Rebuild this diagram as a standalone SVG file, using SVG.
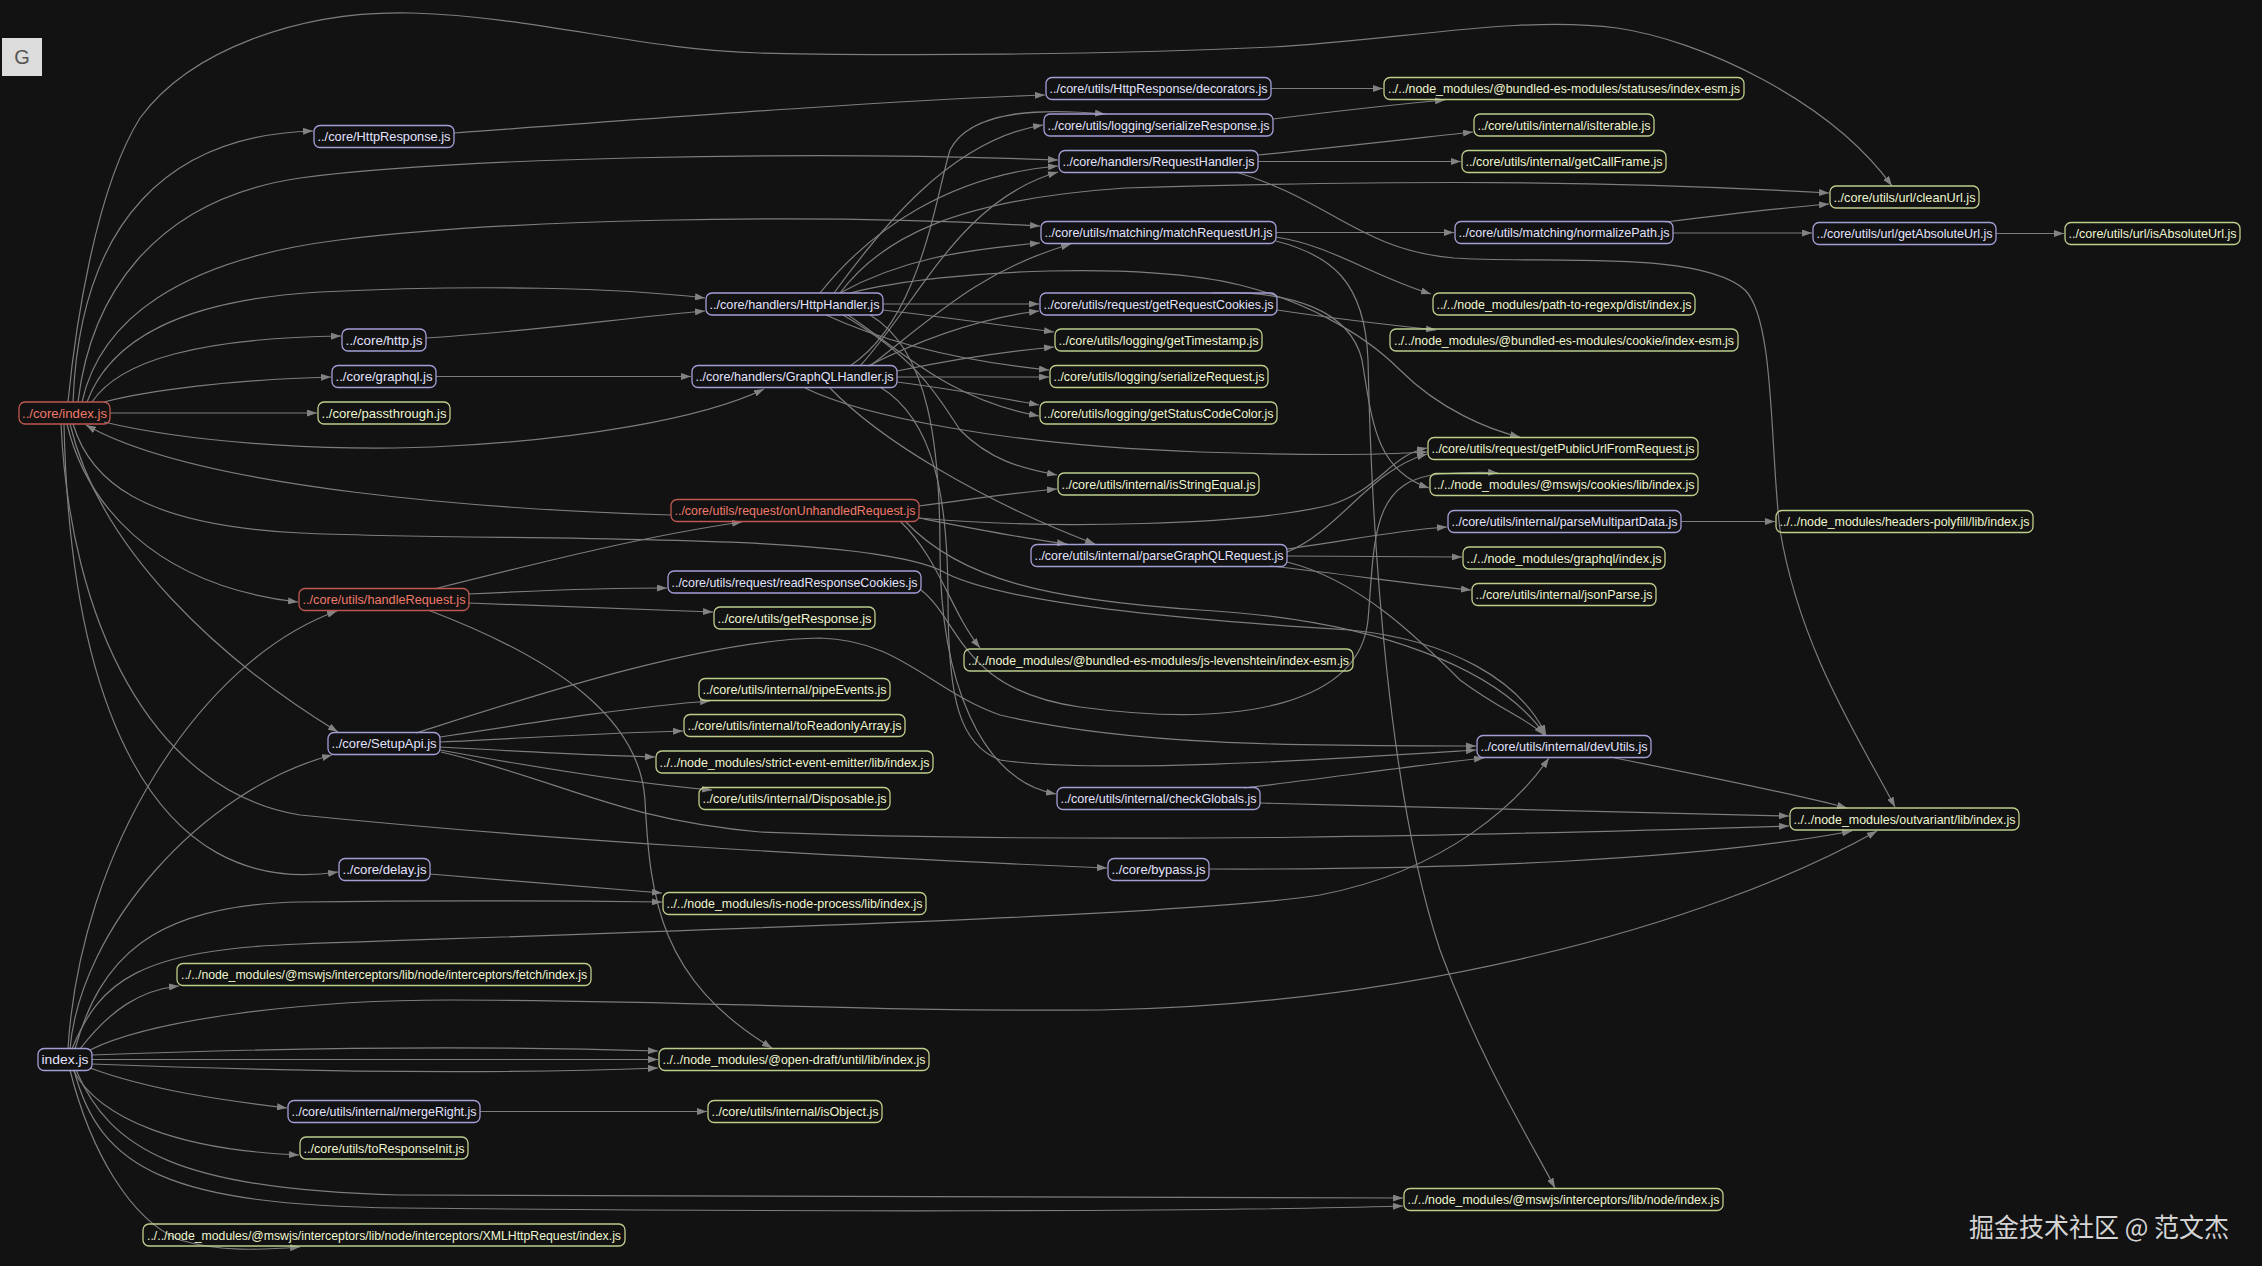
<svg xmlns="http://www.w3.org/2000/svg" width="2262" height="1274" viewBox="0 0 2262 1274">
<defs>
<marker id="arr" viewBox="0 0 10 7" refX="10" refY="3.5" markerWidth="10" markerHeight="7" markerUnits="userSpaceOnUse" orient="auto"><path d="M0,0 L10,3.5 L0,7 z" fill="#828282"/></marker>
<style>
.bg{fill:#121212}
#edges path{fill:none;stroke:#7d7d7d;stroke-width:1.2;marker-end:url(#arr)}
.node rect{fill:#121212;fill-opacity:0;stroke-width:1.3}
.node text{font-family:"Liberation Sans",Arial,sans-serif;font-size:13px;text-anchor:middle}
.red rect{stroke:#bd5850}.red text{fill:#f07a6a}
.pur rect{stroke:#a29fd6}.pur text{fill:#e2e2ff}
.grn rect{stroke:#bccd8c}.grn text{fill:#eef6cf}
</style>
</defs>
<rect class="bg" x="0" y="0" width="2262" height="1274"/>
<rect x="0" y="1266" width="2262" height="8" fill="#ffffff"/>
<g id="title"><rect x="2" y="38" width="40" height="38" fill="#dcdcdc"/><text x="22" y="64" font-family="Liberation Sans,Arial,sans-serif" font-size="20" fill="#555" text-anchor="middle">G</text></g>
<g id="edges">
<path d="M68,402 C75,330 95,190 140,118 C190,50 300,10 412,13 C540,17 640,50 760,53 C900,56 1100,55 1272,47 C1400,40 1520,15 1617,28 C1700,40 1830,100 1892,186"/>
<path d="M73,402 C80,220 170,135 313,131"/>
<path d="M78,402 C90,300 150,200 300,178 C450,158 800,150 1058,160"/>
<path d="M82,402 C100,320 180,260 339,240 C500,220 800,212 1040,226"/>
<path d="M87,402 C110,340 180,300 320,292 C480,284 620,288 705,298"/>
<path d="M92,402 C120,360 200,338 341,336"/>
<path d="M104,402 C150,390 230,380 331,377"/>
<path d="M110,413 L317,413"/>
<path d="M104,422 C200,445 350,452 450,446 C570,440 700,420 764,389"/>
<path d="M671,515 C500,510 200,490 86,425"/>
<path d="M73,424 C90,480 140,525 300,533 C500,542 850,530 940,570 C990,600 1150,618 1350,630 C1450,640 1520,680 1546,735"/>
<path d="M67,424 C85,500 150,585 298,602"/>
<path d="M70,424 C100,550 220,660 338,732"/>
<path d="M61,424 C70,620 150,790 300,815 C550,840 800,855 1107,868"/>
<path d="M64,424 C70,700 150,900 338,872"/>
<path d="M426,338 C550,330 620,318 705,311"/>
<path d="M436,376.5 L691,376.5"/>
<path d="M454,133 C700,115 900,100 1045,95"/>
<path d="M1271,88.5 L1383,88.5"/>
<path d="M1273,119 C1330,112 1400,104 1445,100"/>
<path d="M1258,155 C1330,148 1400,140 1473,132"/>
<path d="M1258,161.5 L1461,161.5"/>
<path d="M1236,172 C1330,200 1360,250 1454,258 C1550,264 1700,250 1745,290 C1775,320 1770,450 1780,530 C1800,650 1860,740 1895,807"/>
<path d="M840,293 C880,240 950,200 1125,188 C1400,180 1600,180 1829,193"/>
<path d="M1665,222 C1720,215 1780,208 1829,204"/>
<path d="M1276,232.5 L1454,232.5"/>
<path d="M1673,233 L1812,233"/>
<path d="M1996,233.5 L2064,233.5"/>
<path d="M1276,237 C1330,245 1370,275 1431,294"/>
<path d="M1276,241 C1330,255 1365,280 1368,360 C1372,550 1390,800 1440,950 C1480,1060 1530,1140 1555,1188"/>
<path d="M1277,310 C1330,318 1390,325 1436,330"/>
<path d="M1212,293 C1290,290 1350,310 1362,360 C1372,420 1375,470 1429,488"/>
<path d="M883,304 L1039,304"/>
<path d="M868,366 C920,340 980,318 1039,311"/>
<path d="M883,310 C950,318 1000,325 1054,332"/>
<path d="M897,371 C950,360 1000,352 1054,347"/>
<path d="M826,315 C880,340 950,360 1049,370"/>
<path d="M897,377 L1049,377"/>
<path d="M848,315 C900,350 950,400 1039,416"/>
<path d="M897,382 C960,390 1000,398 1039,405"/>
<path d="M843,315 C920,360 940,400 960,430 C990,460 1020,468 1057,475"/>
<path d="M919,506 C980,498 1020,492 1057,489"/>
<path d="M834,293 C880,230 950,140 1043,125"/>
<path d="M850,366 C920,320 935,200 950,150 C970,110 1040,108 1105,114"/>
<path d="M820,293 C870,230 950,175 1058,166"/>
<path d="M860,366 C920,300 960,200 1058,172"/>
<path d="M840,293 C900,260 960,250 1040,243"/>
<path d="M870,366 C930,320 980,270 1071,244"/>
<path d="M850,293 C950,268 1150,262 1240,285 C1300,300 1360,330 1400,370 C1440,410 1490,430 1520,437"/>
<path d="M805,388 C860,415 1000,445 1200,452 C1320,456 1380,455 1427,452"/>
<path d="M919,518 C1050,530 1250,525 1330,505 C1380,490 1390,455 1427,448"/>
<path d="M1287,552 C1340,530 1370,470 1427,454"/>
<path d="M1287,549 C1350,540 1400,530 1447,527"/>
<path d="M1287,556 L1462,557"/>
<path d="M1270,566 C1350,575 1420,585 1471,590"/>
<path d="M1287,562 C1360,580 1420,640 1460,680 C1500,710 1530,720 1544,735"/>
<path d="M1681,521.5 L1775,521.5"/>
<path d="M919,518 C980,530 1020,538 1067,544"/>
<path d="M830,388 C880,440 980,500 1095,544"/>
<path d="M921,590 C960,620 960,690 1080,707 C1250,730 1360,700 1368,620 C1375,540 1370,480 1440,474 C1470,472 1485,472 1498,473"/>
<path d="M434,589 C550,560 650,535 742,522"/>
<path d="M468,594 C550,590 600,588 667,588"/>
<path d="M468,603 C560,606 640,609 713,612"/>
<path d="M428,610 C560,660 640,720 645,800 C650,900 660,980 772,1048"/>
<path d="M440,737 C550,720 640,706 710,701"/>
<path d="M440,742 C530,738 600,733 683,731"/>
<path d="M440,747 C530,752 600,756 655,757"/>
<path d="M440,750 C550,770 650,785 712,790"/>
<path d="M416,733 C520,700 700,640 820,638 C900,640 930,690 1000,715 C1150,750 1350,745 1476,746"/>
<path d="M441,752 C560,780 620,820 760,832 C1100,845 1500,835 1789,826"/>
<path d="M1244,788 C1350,775 1420,765 1484,758"/>
<path d="M1260,803 C1450,808 1650,812 1789,816"/>
<path d="M1610,757 C1700,775 1800,795 1847,808"/>
<path d="M1209,869 C1450,870 1700,860 1852,831"/>
<path d="M430,874 C530,882 600,888 662,893"/>
<path d="M75,1049 C100,960 150,905 300,902 C450,900 580,901 662,902"/>
<path d="M72,1049 C100,980 140,950 300,944 C700,930 1200,915 1320,895 C1450,870 1520,800 1549,758"/>
<path d="M90,1050 C150,1020 300,1000 450,1000 C700,1000 850,1012 1100,1010 C1400,1005 1700,930 1877,831"/>
<path d="M80,1049 C110,1010 140,990 179,986"/>
<path d="M92,1055 C300,1047 500,1046 658,1051"/>
<path d="M92,1059.5 L658,1059.5"/>
<path d="M92,1064 C300,1072 500,1074 658,1068"/>
<path d="M90,1068 C150,1090 220,1100 287,1108"/>
<path d="M480,1111.5 L707,1111.5"/>
<path d="M73,1070 C100,1120 180,1150 299,1155"/>
<path d="M76,1070 C110,1150 180,1190 400,1195 C800,1198 1200,1198 1403,1198"/>
<path d="M74,1070 C100,1170 170,1205 400,1208 C800,1212 1200,1212 1403,1206"/>
<path d="M70,1070 C90,1150 130,1220 180,1240 C220,1252 260,1250 300,1247"/>
<path d="M70,1049 C80,930 200,790 332,755"/>
<path d="M68,1049 C80,850 200,660 337,611"/>
<path d="M880,387 C935,420 948,500 948,600 C948,700 960,745 1000,760 C1100,775 1350,758 1476,750"/>
<path d="M870,315 C930,350 940,450 940,550 C940,680 980,780 1056,794"/>
<path d="M900,521 C940,560 950,610 980,648"/>
<path d="M905,521 C960,580 1050,600 1200,610 C1380,620 1500,670 1545,735"/>
</g>
<g id="nodes">
<g id="n-core-index" class="node red"><rect x="19" y="402" width="91" height="22" rx="6"/><text x="64.5" y="417.5" textLength="85" lengthAdjust="spacingAndGlyphs">../core/index.js</text></g>
<g id="n-httpresponse" class="node pur"><rect x="314" y="125.5" width="140" height="22" rx="6"/><text x="384" y="141" textLength="133" lengthAdjust="spacingAndGlyphs">../core/HttpResponse.js</text></g>
<g id="n-http" class="node pur"><rect x="342" y="329" width="84" height="22" rx="6"/><text x="384" y="344.5" textLength="77" lengthAdjust="spacingAndGlyphs">../core/http.js</text></g>
<g id="n-graphql" class="node pur"><rect x="332" y="365.5" width="104" height="22" rx="6"/><text x="384" y="381" textLength="97" lengthAdjust="spacingAndGlyphs">../core/graphql.js</text></g>
<g id="n-passthrough" class="node grn"><rect x="318" y="402" width="132" height="22" rx="6"/><text x="384" y="417.5" textLength="125" lengthAdjust="spacingAndGlyphs">../core/passthrough.js</text></g>
<g id="n-handlerequest" class="node red"><rect x="299" y="588.5" width="170" height="22" rx="6"/><text x="384" y="604" textLength="163" lengthAdjust="spacingAndGlyphs">../core/utils/handleRequest.js</text></g>
<g id="n-setupapi" class="node pur"><rect x="328" y="732.5" width="112" height="22" rx="6"/><text x="384" y="748" textLength="105" lengthAdjust="spacingAndGlyphs">../core/SetupApi.js</text></g>
<g id="n-delay" class="node pur"><rect x="339" y="858.5" width="91" height="22" rx="6"/><text x="384.5" y="874" textLength="84" lengthAdjust="spacingAndGlyphs">../core/delay.js</text></g>
<g id="n-fetch" class="node grn"><rect x="177" y="963.5" width="414" height="22" rx="6"/><text x="384" y="979" textLength="406" lengthAdjust="spacingAndGlyphs">../../node_modules/@mswjs/interceptors/lib/node/interceptors/fetch/index.js</text></g>
<g id="n-mergeright" class="node pur"><rect x="288" y="1100.5" width="192" height="22" rx="6"/><text x="384" y="1116" textLength="185" lengthAdjust="spacingAndGlyphs">../core/utils/internal/mergeRight.js</text></g>
<g id="n-toresponseinit" class="node grn"><rect x="300" y="1137" width="168" height="22" rx="6"/><text x="384" y="1152.5" textLength="161" lengthAdjust="spacingAndGlyphs">../core/utils/toResponseInit.js</text></g>
<g id="n-xhr" class="node grn"><rect x="143" y="1224" width="482" height="22" rx="6"/><text x="384" y="1239.5" textLength="474" lengthAdjust="spacingAndGlyphs">../../node_modules/@mswjs/interceptors/lib/node/interceptors/XMLHttpRequest/index.js</text></g>
<g id="n-index" class="node pur"><rect x="38" y="1048.5" width="54" height="22" rx="6"/><text x="65" y="1064" textLength="47" lengthAdjust="spacingAndGlyphs">index.js</text></g>
<g id="n-httphandler" class="node pur"><rect x="706" y="293" width="177" height="22" rx="6"/><text x="794.5" y="308.5" textLength="170" lengthAdjust="spacingAndGlyphs">../core/handlers/HttpHandler.js</text></g>
<g id="n-graphqlhandler" class="node pur"><rect x="692" y="365.5" width="205" height="22" rx="6"/><text x="794.5" y="381" textLength="198" lengthAdjust="spacingAndGlyphs">../core/handlers/GraphQLHandler.js</text></g>
<g id="n-onunhandled" class="node red"><rect x="671" y="499.5" width="248" height="22" rx="6"/><text x="795" y="515" textLength="241" lengthAdjust="spacingAndGlyphs">../core/utils/request/onUnhandledRequest.js</text></g>
<g id="n-readresponsecookies" class="node pur"><rect x="668" y="571" width="253" height="22" rx="6"/><text x="794.5" y="586.5" textLength="246" lengthAdjust="spacingAndGlyphs">../core/utils/request/readResponseCookies.js</text></g>
<g id="n-getresponse" class="node grn"><rect x="714" y="607" width="161" height="22" rx="6"/><text x="794.5" y="622.5" textLength="154" lengthAdjust="spacingAndGlyphs">../core/utils/getResponse.js</text></g>
<g id="n-pipeevents" class="node grn"><rect x="699" y="678.5" width="191" height="22" rx="6"/><text x="794.5" y="694" textLength="184" lengthAdjust="spacingAndGlyphs">../core/utils/internal/pipeEvents.js</text></g>
<g id="n-toreadonlyarray" class="node grn"><rect x="684" y="714.5" width="221" height="22" rx="6"/><text x="794.5" y="730" textLength="214" lengthAdjust="spacingAndGlyphs">../core/utils/internal/toReadonlyArray.js</text></g>
<g id="n-strictevent" class="node grn"><rect x="656" y="751" width="277" height="22" rx="6"/><text x="794.5" y="766.5" textLength="270" lengthAdjust="spacingAndGlyphs">../../node_modules/strict-event-emitter/lib/index.js</text></g>
<g id="n-disposable" class="node grn"><rect x="699" y="787.5" width="191" height="22" rx="6"/><text x="794.5" y="803" textLength="184" lengthAdjust="spacingAndGlyphs">../core/utils/internal/Disposable.js</text></g>
<g id="n-isnodeprocess" class="node grn"><rect x="663" y="892.5" width="263" height="22" rx="6"/><text x="794.5" y="908" textLength="256" lengthAdjust="spacingAndGlyphs">../../node_modules/is-node-process/lib/index.js</text></g>
<g id="n-until" class="node grn"><rect x="659" y="1048.5" width="270" height="22" rx="6"/><text x="794" y="1064" textLength="263" lengthAdjust="spacingAndGlyphs">../../node_modules/@open-draft/until/lib/index.js</text></g>
<g id="n-isobject" class="node grn"><rect x="708" y="1100.5" width="174" height="22" rx="6"/><text x="795" y="1116" textLength="167" lengthAdjust="spacingAndGlyphs">../core/utils/internal/isObject.js</text></g>
<g id="n-decorators" class="node pur"><rect x="1046" y="77.5" width="225" height="22" rx="6"/><text x="1158.5" y="93" textLength="218" lengthAdjust="spacingAndGlyphs">../core/utils/HttpResponse/decorators.js</text></g>
<g id="n-serializeresponse" class="node pur"><rect x="1044" y="114" width="229" height="22" rx="6"/><text x="1158.5" y="129.5" textLength="222" lengthAdjust="spacingAndGlyphs">../core/utils/logging/serializeResponse.js</text></g>
<g id="n-requesthandler" class="node pur"><rect x="1059" y="150.5" width="199" height="22" rx="6"/><text x="1158.5" y="166" textLength="192" lengthAdjust="spacingAndGlyphs">../core/handlers/RequestHandler.js</text></g>
<g id="n-matchrequesturl" class="node pur"><rect x="1041" y="221.5" width="235" height="22" rx="6"/><text x="1158.5" y="237" textLength="228" lengthAdjust="spacingAndGlyphs">../core/utils/matching/matchRequestUrl.js</text></g>
<g id="n-getrequestcookies" class="node pur"><rect x="1040" y="293" width="237" height="22" rx="6"/><text x="1158.5" y="308.5" textLength="230" lengthAdjust="spacingAndGlyphs">../core/utils/request/getRequestCookies.js</text></g>
<g id="n-gettimestamp" class="node grn"><rect x="1055" y="329" width="207" height="22" rx="6"/><text x="1158.5" y="344.5" textLength="200" lengthAdjust="spacingAndGlyphs">../core/utils/logging/getTimestamp.js</text></g>
<g id="n-serializerequest" class="node grn"><rect x="1050" y="365.5" width="218" height="22" rx="6"/><text x="1159" y="381" textLength="211" lengthAdjust="spacingAndGlyphs">../core/utils/logging/serializeRequest.js</text></g>
<g id="n-getstatuscodecolor" class="node grn"><rect x="1040" y="402" width="237" height="22" rx="6"/><text x="1158.5" y="417.5" textLength="230" lengthAdjust="spacingAndGlyphs">../core/utils/logging/getStatusCodeColor.js</text></g>
<g id="n-isstringequal" class="node grn"><rect x="1058" y="473" width="201" height="22" rx="6"/><text x="1158.5" y="488.5" textLength="194" lengthAdjust="spacingAndGlyphs">../core/utils/internal/isStringEqual.js</text></g>
<g id="n-parsegraphqlrequest" class="node pur"><rect x="1031" y="544.5" width="256" height="22" rx="6"/><text x="1159" y="560" textLength="249" lengthAdjust="spacingAndGlyphs">../core/utils/internal/parseGraphQLRequest.js</text></g>
<g id="n-levenshtein" class="node grn"><rect x="964" y="649" width="389" height="22" rx="6"/><text x="1158.5" y="664.5" textLength="381" lengthAdjust="spacingAndGlyphs">../../node_modules/@bundled-es-modules/js-levenshtein/index-esm.js</text></g>
<g id="n-checkglobals" class="node pur"><rect x="1057" y="787.5" width="203" height="22" rx="6"/><text x="1158.5" y="803" textLength="196" lengthAdjust="spacingAndGlyphs">../core/utils/internal/checkGlobals.js</text></g>
<g id="n-bypass" class="node pur"><rect x="1108" y="858.5" width="101" height="22" rx="6"/><text x="1158.5" y="874" textLength="94" lengthAdjust="spacingAndGlyphs">../core/bypass.js</text></g>
<g id="n-statuses" class="node grn"><rect x="1384" y="77.5" width="360" height="22" rx="6"/><text x="1564" y="93" textLength="352" lengthAdjust="spacingAndGlyphs">../../node_modules/@bundled-es-modules/statuses/index-esm.js</text></g>
<g id="n-isiterable" class="node grn"><rect x="1474" y="114" width="180" height="22" rx="6"/><text x="1564" y="129.5" textLength="173" lengthAdjust="spacingAndGlyphs">../core/utils/internal/isIterable.js</text></g>
<g id="n-getcallframe" class="node grn"><rect x="1462" y="150.5" width="204" height="22" rx="6"/><text x="1564" y="166" textLength="197" lengthAdjust="spacingAndGlyphs">../core/utils/internal/getCallFrame.js</text></g>
<g id="n-normalizepath" class="node pur"><rect x="1455" y="221.5" width="218" height="22" rx="6"/><text x="1564" y="237" textLength="211" lengthAdjust="spacingAndGlyphs">../core/utils/matching/normalizePath.js</text></g>
<g id="n-pathtoregexp" class="node grn"><rect x="1433" y="293" width="262" height="22" rx="6"/><text x="1564" y="308.5" textLength="255" lengthAdjust="spacingAndGlyphs">../../node_modules/path-to-regexp/dist/index.js</text></g>
<g id="n-cookie" class="node grn"><rect x="1390" y="329" width="348" height="22" rx="6"/><text x="1564" y="344.5" textLength="340" lengthAdjust="spacingAndGlyphs">../../node_modules/@bundled-es-modules/cookie/index-esm.js</text></g>
<g id="n-getpublicurl" class="node grn"><rect x="1428" y="437.5" width="270" height="22" rx="6"/><text x="1563" y="453" textLength="263" lengthAdjust="spacingAndGlyphs">../core/utils/request/getPublicUrlFromRequest.js</text></g>
<g id="n-mswjscookies" class="node grn"><rect x="1430" y="473.5" width="268" height="22" rx="6"/><text x="1564" y="489" textLength="261" lengthAdjust="spacingAndGlyphs">../../node_modules/@mswjs/cookies/lib/index.js</text></g>
<g id="n-parsemultipart" class="node pur"><rect x="1448" y="510.5" width="233" height="22" rx="6"/><text x="1564.5" y="526" textLength="226" lengthAdjust="spacingAndGlyphs">../core/utils/internal/parseMultipartData.js</text></g>
<g id="n-graphqlindex" class="node grn"><rect x="1463" y="547" width="202" height="22" rx="6"/><text x="1564" y="562.5" textLength="195" lengthAdjust="spacingAndGlyphs">../../node_modules/graphql/index.js</text></g>
<g id="n-jsonparse" class="node grn"><rect x="1472" y="583.5" width="184" height="22" rx="6"/><text x="1564" y="599" textLength="177" lengthAdjust="spacingAndGlyphs">../core/utils/internal/jsonParse.js</text></g>
<g id="n-devutils" class="node pur"><rect x="1477" y="735.5" width="174" height="22" rx="6"/><text x="1564" y="751" textLength="167" lengthAdjust="spacingAndGlyphs">../core/utils/internal/devUtils.js</text></g>
<g id="n-interceptorsnode" class="node grn"><rect x="1404" y="1188.5" width="319" height="22" rx="6"/><text x="1563.5" y="1204" textLength="312" lengthAdjust="spacingAndGlyphs">../../node_modules/@mswjs/interceptors/lib/node/index.js</text></g>
<g id="n-cleanurl" class="node grn"><rect x="1830" y="186" width="149" height="22" rx="6"/><text x="1904.5" y="201.5" textLength="142" lengthAdjust="spacingAndGlyphs">../core/utils/url/cleanUrl.js</text></g>
<g id="n-getabsoluteurl" class="node pur"><rect x="1813" y="222.5" width="183" height="22" rx="6"/><text x="1904.5" y="238" textLength="176" lengthAdjust="spacingAndGlyphs">../core/utils/url/getAbsoluteUrl.js</text></g>
<g id="n-headerspolyfill" class="node grn"><rect x="1776" y="510.5" width="257" height="22" rx="6"/><text x="1904.5" y="526" textLength="250" lengthAdjust="spacingAndGlyphs">../../node_modules/headers-polyfill/lib/index.js</text></g>
<g id="n-outvariant" class="node grn"><rect x="1790" y="808" width="229" height="22" rx="6"/><text x="1904.5" y="823.5" textLength="222" lengthAdjust="spacingAndGlyphs">../../node_modules/outvariant/lib/index.js</text></g>
<g id="n-isabsoluteurl" class="node grn"><rect x="2065" y="222.5" width="175" height="22" rx="6"/><text x="2152.5" y="238" textLength="168" lengthAdjust="spacingAndGlyphs">../core/utils/url/isAbsoluteUrl.js</text></g>
</g>
<text x="1969" y="1237" font-family="'Noto Sans CJK SC',sans-serif" font-size="26" fill="#d4d4d4" textLength="260" lengthAdjust="spacingAndGlyphs">掘金技术社区 @ 范文杰</text>
</svg>
